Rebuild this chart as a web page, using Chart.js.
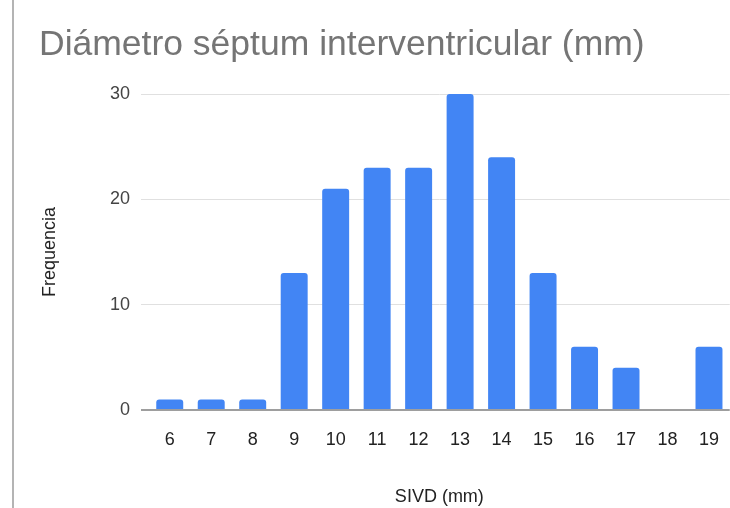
<!DOCTYPE html>
<html>
<head>
<meta charset="utf-8">
<script src="https://cdn.jsdelivr.net/npm/chart.js@4"></script>
<style>
  html, body { margin: 0; padding: 0; background: #fff; overflow: hidden; }
  #wrap { position: relative; width: 730px; height: 508px; }
  #edge { position: absolute; left: 12px; top: 0; width: 2px; height: 508px; background: #b4b4b4; }
  #title { position: absolute; left: 39px; top: 23px; font: 35.5px "Liberation Sans", Arial, sans-serif; color: #757575; white-space: nowrap; }
  canvas { position: absolute; left: 0; top: 0; }
</style>
</head>
<body>
<div id="wrap">
  <canvas id="chart" width="730" height="508"></canvas>
  <div id="edge"></div>
  <div id="title">Diámetro séptum interventricular (mm)</div>
</div>
<script>
// SIVD values and their frequency
const sizes = ["6", "7", "8", "9", "10", "11", "12", "13", "14", "15", "16", "17", "18", "19"];
const counts = [1, 1, 1, 13, 21, 23, 23, 30, 24, 13, 6, 4, 0, 6];
const yTicks = [0, 10, 20, 30];

const font = "'Liberation Sans', Arial, sans-serif";

var ctx = document.getElementById("chart").getContext("2d");
var sivdChart = new Chart(ctx, {
  type: "bar",
  data: {
    labels: sizes,
    datasets: [
      {
        data: counts,
        backgroundColor: "#4285F4",
        borderRadius: 3,
        barPercentage: 0.65,
        categoryPercentage: 1,
      },
    ],
  },
  options: {
    responsive: false,
    animation: false,
    layout: { padding: { top: 94, left: 0, right: 0, bottom: 0 } },
    plugins: { legend: { display: false }, tooltip: { enabled: false } },
    scales: {
      x: {
        grid: { display: false },
        border: { display: false },
        ticks: { color: "#222", padding: 11, font: { family: font, size: 18 } },
        title: {
          display: true,
          text: "SIVD (mm)",
          color: "#222",
          padding: { top: 11, bottom: 0 },
          font: { family: font, size: 18 },
        },
        afterFit: (scale) => { scale.height = 98; },
      },
      y: {
        min: 0,
        max: 30,
        afterBuildTicks: (scale) => { scale.ticks = yTicks.map((v) => ({ value: v })); },
        border: { display: false },
        grid: {
          color: (c) => (c.tick && c.tick.value === 0 ? "#9e9e9e" : "#e0e0e0"),
          lineWidth: (c) => (c.tick && c.tick.value === 0 ? 2 : 1),
          tickLength: 8,
        },
        ticks: { color: "#444", padding: 11, font: { family: font, size: 18 } },
        title: {
          display: true,
          text: "Frequencia",
          color: "#222",
          padding: { top: 39, bottom: 0 },
          font: { family: font, size: 18 },
        },
        afterFit: (scale) => { scale.width = 149; },
      },
    },
  },
});
</script>
</body>
</html>
